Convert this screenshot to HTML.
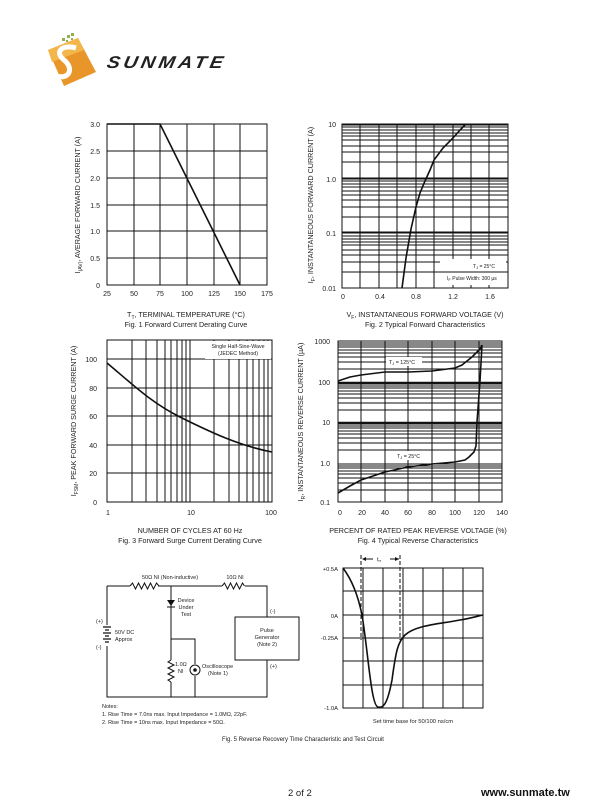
<!DOCTYPE html>
<html><head><meta charset="utf-8"><style>
html,body{margin:0;padding:0;background:#fff;width:610px;height:810px;overflow:hidden}
svg{display:block}
text{font-family:"Liberation Sans",sans-serif;fill:#222}
.t{font-size:7px}
.c{font-size:7.2px}
.g{stroke:#111;stroke-width:1;fill:none}
.k{stroke:#111;stroke-width:1.6;fill:none}
</style></head><body>
<svg width="610" height="810" viewBox="0 0 610 810" xmlns="http://www.w3.org/2000/svg">
<!-- logo -->
<g>
<polygon points="48,50 78,38 96,72 64,86" fill="#e8962a"/>
<polygon points="48,50 78,38 84,50 52,62" fill="#f2b64a"/>
<path d="M76,48 C62,44 54,52 64,60 C74,68 70,80 56,76" stroke="#fff" stroke-width="5" fill="none"/>
<g fill="#8fb04a"><rect x="62" y="38" width="3" height="3"/><rect x="67" y="35" width="3" height="3"/><rect x="71" y="33" width="3" height="3"/><rect x="66" y="40" width="2" height="2"/><rect x="71" y="38" width="2" height="2"/></g>
<text x="0" y="0" style="font-size:17px;font-weight:bold;font-style:italic;fill:#222;letter-spacing:3px" transform="translate(106,68) scale(1.15,1) skewX(-10)">SUNMATE</text>
</g>

<!-- Fig1 -->
<g>
<g class="g">
<rect x="107" y="124" width="160" height="161"/>
<path d="M134,124V285M160,124V285M187,124V285M214,124V285M240,124V285M107,151H267M107,178H267M107,205H267M107,231H267M107,258H267"/>
</g>
<path class="k" d="M107,124H160L240,285"/>
<g class="t" text-anchor="end"><text x="100" y="127">3.0</text><text x="100" y="154">2.5</text><text x="100" y="181">2.0</text><text x="100" y="208">1.5</text><text x="100" y="234">1.0</text><text x="100" y="261">0.5</text><text x="100" y="288">0</text></g>
<g class="t" text-anchor="middle"><text x="107" y="296">25</text><text x="134" y="296">50</text><text x="160" y="296">75</text><text x="187" y="296">100</text><text x="214" y="296">125</text><text x="240" y="296">150</text><text x="267" y="296">175</text></g>
<text class="c" transform="translate(80,205) rotate(-90)" text-anchor="middle">I<tspan font-size="5" dy="2">(AV)</tspan><tspan dy="-2">, AVERAGE FORWARD CURRENT (A)</tspan></text>
<text class="c" x="186" y="317" text-anchor="middle">T<tspan font-size="5" dy="2">T</tspan><tspan dy="-2">, TERMINAL TEMPERATURE (°C)</tspan></text>
<text class="c" x="186" y="327" text-anchor="middle">Fig. 1  Forward Current Derating Curve</text>
</g>

<!-- Fig2 -->
<g>
<g class="g">
<rect x="342" y="124" width="166" height="164"/>
<path d="M360,124V288M379,124V288M397,124V288M416,124V288M434,124V288M453,124V288M471,124V288M489,124V288"/>
<path d="M342,179H508M342,233H508M342,178H508M342,232H508M342,125H508
M342,272H508M342,262H508M342,255H508M342,250H508M342,245H508M342,242H508M342,239H508M342,236H508
M342,217H508M342,207H508M342,200H508M342,195H508M342,191H508M342,187H508M342,184H508M342,181H508
M342,162H508M342,152H508M342,146H508M342,140H508M342,136H508M342,133H508M342,130H508M342,127H508"/>
</g>
<path class="k" d="M402,288L406,258L411,229L416,207L420,193L425,181L430,170L434,160L443,148L453,138L460,130L466,124"/>
<rect x="440" y="259" width="66" height="26" fill="#fff"/>
<path class="g" d="M440,272H508"/>
<text x="473" y="268" style="font-size:5px">T<tspan font-size="4" dy="1">J</tspan><tspan dy="-1"> = 25°C</tspan></text>
<text x="447" y="280" style="font-size:5px">I<tspan font-size="4" dy="1">F</tspan><tspan dy="-1"> Pulse Width: 300 µs</tspan></text>
<g class="t" text-anchor="end"><text x="336" y="127">10</text><text x="336" y="182">1.0</text><text x="336" y="236">0.1</text><text x="336" y="291">0.01</text></g>
<g class="t" text-anchor="middle"><text x="343" y="299">0</text><text x="380" y="299">0.4</text><text x="416" y="299">0.8</text><text x="453" y="299">1.2</text><text x="490" y="299">1.6</text></g>
<text class="c" transform="translate(313,205) rotate(-90)" text-anchor="middle">I<tspan font-size="5" dy="2">F</tspan><tspan dy="-2">, INSTANTANEOUS FORWARD CURRENT (A)</tspan></text>
<text class="c" x="425" y="317" text-anchor="middle">V<tspan font-size="5" dy="2">F</tspan><tspan dy="-2">, INSTANTANEOUS FORWARD VOLTAGE (V)</tspan></text>
<text class="c" x="425" y="327" text-anchor="middle">Fig. 2  Typical Forward Characteristics</text>
</g>

<!-- Fig3 -->
<g>
<g class="g">
<rect x="107" y="340" width="165" height="162"/>
<path d="M132,340V502M146,340V502M157,340V502M165,340V502M171,340V502M177,340V502M182,340V502M186,340V502M190,340V502
M214,340V502M229,340V502M239,340V502M247,340V502M253,340V502M259,340V502M264,340V502M268,340V502
M107,359H272M107,388H272M107,416H272M107,445H272M107,473H272"/>
</g>
<path class="k" d="M107,363C130,382 150,402 180,417C210,432 240,446 272,452"/>
<rect x="205" y="341" width="66" height="18" fill="#fff"/>
<text x="238" y="348" text-anchor="middle" style="font-size:5.3px">Single Half-Sine-Wave</text>
<text x="238" y="355" text-anchor="middle" style="font-size:5.3px">(JEDEC Method)</text>
<g class="t" text-anchor="end"><text x="97" y="362">100</text><text x="97" y="391">80</text><text x="97" y="419">60</text><text x="97" y="448">40</text><text x="97" y="476">20</text><text x="97" y="505">0</text></g>
<g class="t" text-anchor="middle"><text x="108" y="515">1</text><text x="191" y="515">10</text><text x="271" y="515">100</text></g>
<text class="c" transform="translate(76,421) rotate(-90)" text-anchor="middle">I<tspan font-size="5" dy="2">FSM</tspan><tspan dy="-2">, PEAK FORWARD SURGE CURRENT (A)</tspan></text>
<text class="c" x="190" y="533" text-anchor="middle">NUMBER OF CYCLES AT 60 Hz</text>
<text class="c" x="190" y="543" text-anchor="middle">Fig. 3  Forward Surge Current Derating Curve</text>
</g>

<!-- Fig4 -->
<g>
<g class="g">
<rect x="338" y="341" width="164" height="161"/>
<path d="M361,341V502M385,341V502M408,341V502M432,341V502M455,341V502M479,341V502"/>
<path d="M338,490H502M338,483H502M338,478H502M338,474H502M338,471H502M338,468H502M338,466H502M338,464H502
M338,450H502M338,443H502M338,438H502M338,434H502M338,431H502M338,428H502M338,426H502M338,424H502
M338,410H502M338,403H502M338,398H502M338,394H502M338,391H502M338,388H502M338,386H502M338,384H502
M338,369H502M338,362H502M338,357H502M338,353H502M338,350H502M338,347H502M338,345H502M338,343H502"/>
<path d="M338,383H502M338,423H502" stroke-width="2.5"/>
</g>
<path class="k" d="M338,381L350,377L361,375L385,372L408,372L432,371L455,368L462,365L467,361L472,357L476,353L480,349L482,345"/>
<path class="k" d="M338,493L350,486L361,480L373,476L385,472L408,467L432,464L455,462L465,460L469,457L474,452L476,446L477,422L480,381L482,345"/>
<rect x="386" y="357" width="36" height="9" fill="#fff"/>
<text x="389" y="364" style="font-size:5.3px">T<tspan font-size="4" dy="1">J</tspan><tspan dy="-1"> = 125°C</tspan></text>
<rect x="395" y="451" width="30" height="9" fill="#fff"/>
<text x="397" y="458" style="font-size:5.3px">T<tspan font-size="4" dy="1">J</tspan><tspan dy="-1"> = 25°C</tspan></text>
<g class="t" text-anchor="end"><text x="330" y="344">1000</text><text x="330" y="385">100</text><text x="330" y="425">10</text><text x="330" y="466">1.0</text><text x="330" y="505">0.1</text></g>
<g class="t" text-anchor="middle"><text x="340" y="515">0</text><text x="362" y="515">20</text><text x="385" y="515">40</text><text x="408" y="515">60</text><text x="432" y="515">80</text><text x="455" y="515">100</text><text x="479" y="515">120</text><text x="502" y="515">140</text></g>
<text class="c" transform="translate(303,422) rotate(-90)" text-anchor="middle">I<tspan font-size="5" dy="2">R</tspan><tspan dy="-2">, INSTANTANEOUS REVERSE CURRENT (µA)</tspan></text>
<text class="c" x="418" y="533" text-anchor="middle">PERCENT OF RATED PEAK REVERSE VOLTAGE (%)</text>
<text class="c" x="418" y="543" text-anchor="middle">Fig. 4  Typical Reverse Characteristics</text>
</g>

<!-- Fig5 circuit -->
<g style="font-size:5.5px">
<g class="g">
<path d="M107,586H130M158,586H222M245,586H267V617M267,660V697H107V646M107,625V586"/>
<path d="M130,586l2.5,-3l3,6l3,-6l3,6l3,-6l3,6l3,-6l3,6l3,-6l2.5,3"/>
<path d="M222,586l2.5,-3l3,6l3,-6l3,6l3,-6l3,6l3,-6l2,3"/>
<path d="M171,586V660M171,682V697M171,639H195V664M195,676V697"/>
<path d="M171,660l-3,2l6,3l-6,3l6,3l-6,3l6,3l-6,3l3,2"/>
<rect x="235" y="617" width="64" height="43"/>
<circle cx="195" cy="670" r="5"/>
</g>
<polygon points="167,600 175,600 171,606" fill="#111"/><path d="M167,607H175" stroke="#111"/>
<circle cx="195" cy="670" r="1.8" fill="#111"/>
<path d="M103,627H111M105,630H109M103,633H111M105,636H109M103,639H111M105,642H109" stroke="#111" stroke-width="1.2"/>
<rect x="106" y="625" width="3" height="21" fill="none"/>
<text x="170" y="579" text-anchor="middle">50Ω NI (Non-inductive)</text>
<text x="235" y="579" text-anchor="middle">10Ω NI</text>
<text x="186" y="602" text-anchor="middle">Device</text><text x="186" y="609" text-anchor="middle">Under</text><text x="186" y="616" text-anchor="middle">Test</text>
<text x="270" y="613">(-)</text><text x="270" y="668">(+)</text>
<text x="267" y="632" text-anchor="middle">Pulse</text><text x="267" y="639" text-anchor="middle">Generator</text><text x="267" y="646" text-anchor="middle">(Note 2)</text>
<text x="96" y="623">(+)</text><text x="96" y="649">(-)</text>
<text x="115" y="634">50V DC</text><text x="115" y="641">Approx</text>
<text x="175" y="666">1.0Ω</text><text x="178" y="673">NI</text>
<text x="202" y="668">Oscilloscope</text><text x="208" y="675">(Note 1)</text>
<text x="102" y="708">Notes:</text>
<text x="102" y="716">1. Rise Time = 7.0ns max. Input Impedance = 1.0MΩ, 22pF.</text>
<text x="102" y="724">2. Rise Time = 10ns max. Input Impedance = 50Ω.</text>
</g>

<!-- Fig5 waveform -->
<g>
<g class="g">
<rect x="343" y="568" width="140" height="140"/>
<path d="M363,568V708M383,568V708M403,568V708M423,568V708M443,568V708M463,568V708M343,591H483M343,615H483M343,638H483M343,661H483M343,685H483"/>
</g>
<path class="g" stroke-dasharray="4,2" d="M361,555V640M400,555V640" stroke-width="1.2"/>
<path d="M363,559H373M390,559H399" stroke="#111"/>
<polygon points="362,559 366,557 366,561" fill="#111"/><polygon points="399,559 395,557 395,561" fill="#111"/>
<text x="377" y="561" style="font-size:5.5px">t<tspan font-size="4" dy="1">rr</tspan></text>
<path class="k" d="M343,568C352,580 358,595 362,615C368,650 371,706 378,707C383,708 387,706 392,680C396,650 398,642 405,635C416,625 440,624 460,620C472,618 478,616 483,615"/>
<g style="font-size:5.8px" text-anchor="end"><text x="338" y="571">+0.5A</text><text x="338" y="618">0A</text><text x="338" y="640">-0.25A</text><text x="338" y="710">-1.0A</text></g>
<text x="413" y="723" text-anchor="middle" style="font-size:5.8px">Set time base for 50/100 ns/cm</text>
</g>
<text x="303" y="741" text-anchor="middle" style="font-size:6px">Fig. 5  Reverse Recovery Time Characteristic and Test Circuit</text>

<!-- footer -->
<text x="288" y="796" style="font-size:9.5px">2 of 2</text>
<text x="481" y="796" style="font-size:11px;font-weight:bold;fill:#111">www.sunmate.tw</text>
</svg>
</body></html>
